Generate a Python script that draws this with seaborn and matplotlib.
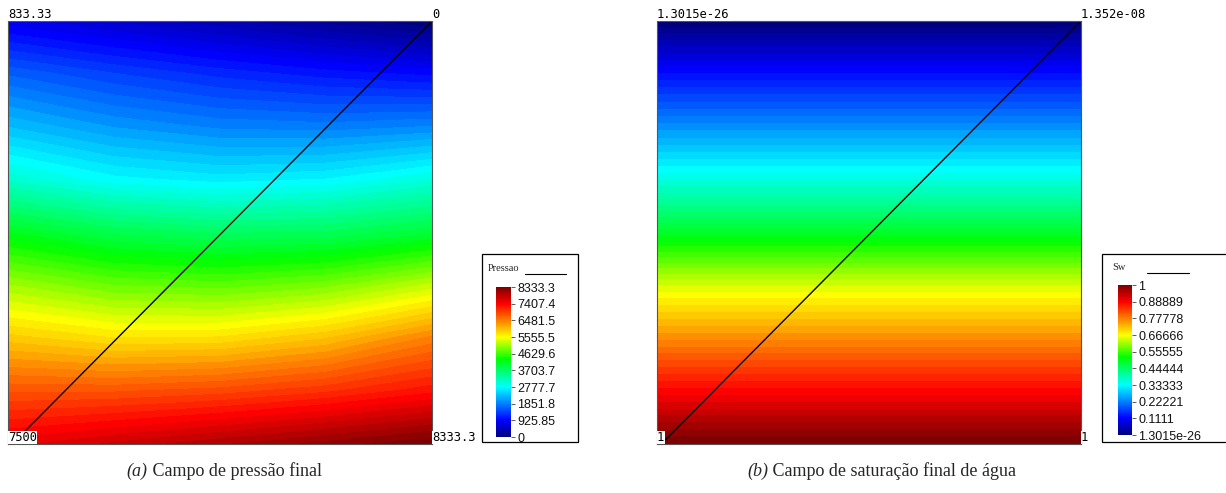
import numpy as np
import matplotlib
matplotlib.use("Agg")
import matplotlib.pyplot as plt
import seaborn as sns
from matplotlib.colors import ListedColormap, LinearSegmentedColormap, Normalize
from matplotlib.cm import ScalarMappable
from matplotlib.patches import Rectangle
from matplotlib.lines import Line2D

sns.set_theme(style="white")
plt.rcParams['font.family'] = ['Liberation Sans', 'DejaVu Sans']

# ---------------- data ----------------
grid_x = [0.0, 0.25, 0.5, 0.75, 1.0]                       # left -> right
grid_depth = [0.0, 0.125, 0.25, 0.375, 0.5, 0.625, 0.75, 0.875, 1.0]  # top -> bottom

# pressure field, rows = depth (top -> bottom), columns = grid_x
pressure_rows = [
    [833.33, 625, 417, 208, 0],
    [1667, 1438, 1250, 1104, 1000],
    [2333, 2068, 1917, 1880, 1958],
    [3083, 2781, 2667, 2740, 3000],
    [4167, 3875, 3750, 3792, 4000],
    [5083, 4812, 4750, 4895, 5250],
    [5917, 5729, 5750, 5979, 6417],
    [6750, 6750, 6833, 7000, 7250],
    [7500, 7708, 7917, 8125, 8333.3],
]
# water saturation profile, depth (top -> bottom); uniform horizontally
sw_profile = [1.3015e-26, 0.125, 0.24, 0.355, 0.49, 0.64, 0.76, 0.88, 1.0]

p_min, p_max = 0.0, 8333.3
sw_min, sw_max = 1.3015e-26, 1.0

p_ticks = [8333.3, 7407.4, 6481.5, 5555.5, 4629.6, 3703.7, 2777.7, 1851.8, 925.85, 0]
p_ticklabels = ["8333.3", "7407.4", "6481.5", "5555.5", "4629.6", "3703.7",
                "2777.7", "1851.8", "925.85", "0"]
sw_ticks = [1, 0.88889, 0.77778, 0.66666, 0.55555, 0.44444, 0.33333, 0.22221, 0.1111, 1.3015e-26]
sw_ticklabels = ["1", "0.88889", "0.77778", "0.66666", "0.55555", "0.44444",
                 "0.33333", "0.22221", "0.1111", "1.3015e-26"]

p_corners = {"tl": "833.33", "tr": "0", "bl": "7500", "br": "8333.3"}
sw_corners = {"tl": "1.3015e-26", "tr": "1.352e-08", "bl": "1", "br": "1"}

caption_a = ("(a)", "Campo de pressão final")
caption_b = ("(b)", "Campo de saturação final de água")

# rainbow colour ramp of the legend
ramp_pos = [0.0, 0.111, 0.333, 0.52, 0.667, 0.889, 1.0]
ramp_col = ["#00007f", "#0000ff", "#00ffff", "#00ff00", "#ffff00", "#ff0000", "#7f0000"]

# ---------------- figure ----------------
W, H = 1226, 493
fig = plt.figure(figsize=(W / 100, H / 100), dpi=100)
fig.patch.set_facecolor("white")

base = LinearSegmentedColormap.from_list("ramp", list(zip(ramp_pos, ramp_col)))
cmap = ListedColormap(sns.color_palette(base(np.linspace(0, 1, 64))))
cmap_smooth = LinearSegmentedColormap.from_list("ramp2", list(zip(ramp_pos, ramp_col)), N=256)


def fr(x0, y0, x1, y1):
    """pixel box (top-left origin) -> figure fraction rect"""
    return [x0 / W, 1 - y1 / H, (x1 - x0) / W, (y1 - y0) / H]


def field_panel(rect, Z, vmin, vmax, corners):
    ax = fig.add_axes(rect)
    X, Y = np.meshgrid(np.array(grid_x), 1 - np.array(grid_depth))
    levels = np.linspace(vmin, vmax, 65)
    cs = ax.contourf(X, Y, Z, levels=levels, cmap=cmap, vmin=vmin, vmax=vmax,
                     extend="both")
    cs.set_edgecolor("face")
    cs.set_linewidth(0.3)
    ax.plot([0.02, 1.0], [0.01, 1.0], color="black", lw=1.0)
    ax.set_xlim(0, 1)
    ax.set_ylim(0, 1)
    ax.set_xticks([])
    ax.set_yticks([])
    for s in ax.spines.values():
        s.set_color("#555555")
        s.set_linewidth(0.8)
    kw = dict(family="DejaVu Sans Mono", fontsize=8.7, color="black",
              ha="left", va="bottom", clip_on=False,
              bbox=dict(facecolor="white", edgecolor="none", pad=0.3))
    ax.text(0, 1.0, corners["tl"], **kw)
    ax.text(1, 1.0, corners["tr"], **kw)
    ax.text(0, 0, corners["bl"], **kw)
    ax.text(1, 0, corners["br"], **kw)
    return ax


Zp = np.array(pressure_rows, dtype=float)
Zs = np.tile(np.array(sw_profile, dtype=float)[:, None], (1, len(grid_x)))

field_panel(fr(8, 21, 432, 444), Zp, p_min, p_max, p_corners)
field_panel(fr(657, 21, 1081, 444), Zs, 0.0, sw_max, sw_corners)


def legend_box(box, title, title_xy, line_x, line_y, cbar_box, vmin, vmax, ticks, labels):
    x0, y0, x1, y1 = box
    fig.add_artist(Rectangle((x0 / W, 1 - y1 / H), (x1 - x0) / W, (y1 - y0) / H,
                             transform=fig.transFigure, facecolor="white",
                             edgecolor="black", linewidth=0.9, zorder=-10))
    fig.text(title_xy[0] / W, 1 - title_xy[1] / H, title, family="Liberation Serif",
             fontsize=7.5, ha="left", va="baseline")
    fig.add_artist(Line2D([line_x[0] / W, line_x[1] / W], [1 - line_y / H, 1 - line_y / H],
                          transform=fig.transFigure, color="black", lw=0.8))
    cax = fig.add_axes(fr(*cbar_box))
    cax.set_zorder(5)
    sm = ScalarMappable(norm=Normalize(vmin, vmax), cmap=cmap_smooth)
    cb = fig.colorbar(sm, cax=cax, orientation="vertical")
    cb.outline.set_visible(False)
    cb.set_ticks(ticks)
    cb.set_ticklabels(labels)
    cax.tick_params(axis="y", right=True, length=3, width=0.6, color="#444444",
                    pad=1.5, labelsize=9, labelcolor="#111111")


legend_box((482, 254, 578, 442), "Pressao", (488, 271), (525, 566), 274,
           (496, 287, 511, 437), p_min, p_max, p_ticks, p_ticklabels)
legend_box((1102, 254, 1234, 442), "Sw", (1112, 270), (1147, 1189), 273,
           (1118, 285, 1132, 435), 0.0, sw_max, sw_ticks, sw_ticklabels)

# captions: italic label + regular text, centred as a whole
fig.canvas.draw()
renderer = fig.canvas.get_renderer()


def caption(cx, cy, parts):
    lab, txt = parts
    t1 = fig.text(0, 1 - cy / H, lab, family="Liberation Serif", style="italic",
                  fontsize=13, ha="left", va="center")
    t2 = fig.text(0, 1 - cy / H, " " + txt, family="Liberation Serif",
                  fontsize=13, ha="left", va="center")
    w1 = t1.get_window_extent(renderer).width
    w2 = t2.get_window_extent(renderer).width
    start = cx - (w1 + w2) / 2
    t1.set_x(start / W)
    t2.set_x((start + w1) / W)


caption(224, 471, caption_a)
caption(882, 471, caption_b)

fig.savefig("out.png", dpi=100, facecolor="white")
